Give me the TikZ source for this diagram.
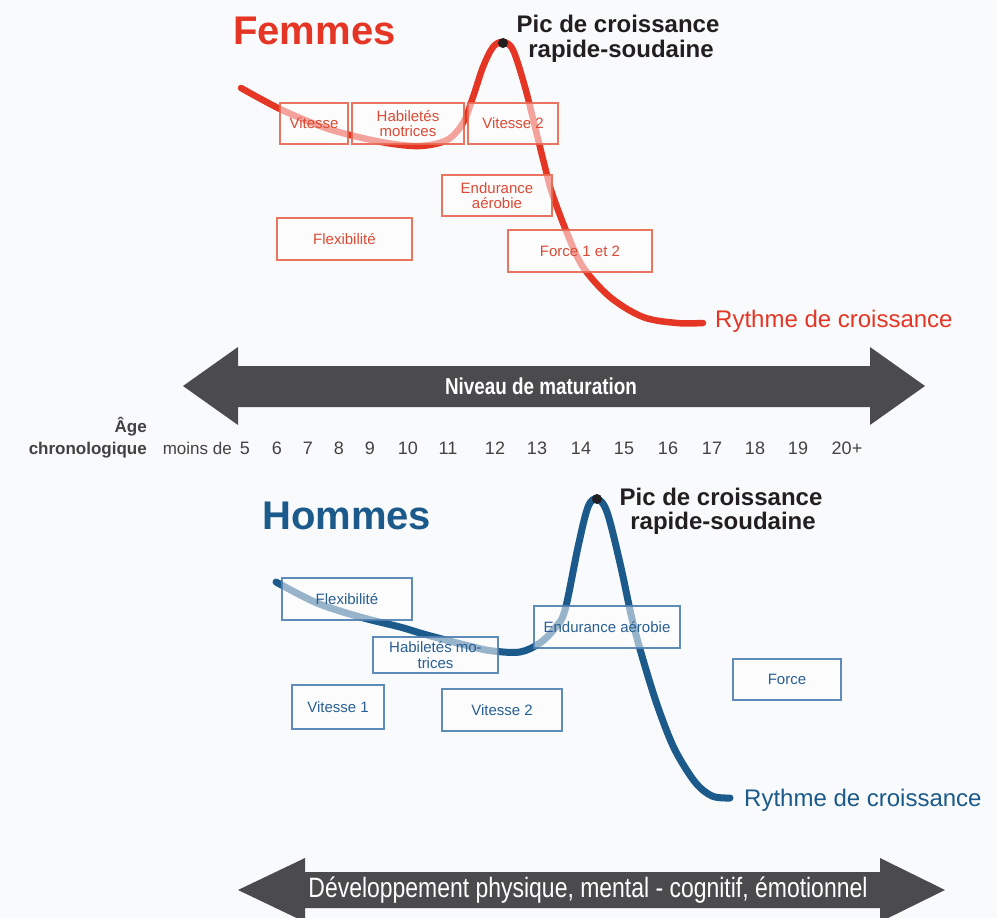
\documentclass[tikz,border=0pt]{standalone}
\usepackage{graphicx}
\usepackage{fontspec}
\setmainfont{Liberation Sans}
\definecolor{fred}{HTML}{E53524}
\definecolor{fredbox}{HTML}{E9674F}
\definecolor{fredtxt}{HTML}{DC4A33}
\definecolor{hblue}{HTML}{1B5A8A}
\definecolor{hbluebox}{HTML}{4F7FB2}
\definecolor{hbluetxt}{HTML}{285F94}
\definecolor{agrey}{HTML}{4B4B4D}
\definecolor{ink}{HTML}{231F20}
\definecolor{bgc}{HTML}{F9FAFC}
\tikzset{
  boxbase/.style={line width=1.8pt, fill=white, fill opacity=0.55, text opacity=1, draw opacity=0.9,
    font=\fontsize{15}{15.5}\selectfont, align=center, inner sep=0pt},
  rbox/.style={boxbase, draw=fredbox, text=fredtxt},
  bbox/.style={boxbase, draw=hbluebox, text=hbluetxt},
  fcurve/.style={draw=fred, line width=6.5pt, line cap=round},
  hcurve/.style={draw=hblue, line width=7pt, line cap=round},
  peakdot/.style={circle, fill=ink, minimum size=10pt, inner sep=0pt},
  title/.style={font=\bfseries\fontsize{40}{40}\selectfont, anchor=base west, inner sep=0pt},
  pictxt/.style={font=\bfseries\fontsize{24}{24}\selectfont, text=ink, anchor=base, inner sep=0pt},
  rythme/.style={font=\fontsize{24}{24}\selectfont, anchor=base west, inner sep=0pt},
  agenum/.style={font=\fontsize{18}{18}\selectfont, text=ink!85, anchor=base, inner sep=0pt},
  agelab/.style={font=\fontsize{17}{17}\selectfont, text=ink!85, anchor=base east, inner sep=0pt},
  bigarrow/.style={fill=agrey},
}
\begin{document}
\begin{tikzpicture}[x=1pt,y=-1pt]
\useasboundingbox (0,0) rectangle (997,918);
\fill[bgc] (0,0) rectangle (997,918);

% ---------- Femmes ----------
\node[title, text=fred] (femmes) at (233,44) {Femmes};
\draw[fcurve] plot[smooth, tension=0.55] coordinates {
 (241,88) (280,109) (320,126) (350,135) (387,143) (420,146) (447,140) (463,123)
 (473,97) (483,67) (493,47) (503,42) (513,50) (525,87) (535,127) (545,167)
 (552,193) (567,233) (583,267) (610,297) (643,317) (677,323) (703,323)};

\node[rbox, minimum width=68pt, minimum height=41pt] (fvit) at (314,123.5) {Vitesse};
\node[rbox, minimum width=112pt, minimum height=41pt] (fhab) at (408,123.5) {Habiletés\\motrices};
\node[rbox, minimum width=90pt, minimum height=41pt] (fvit2) at (513,123.5) {Vitesse 2};
\node[rbox, minimum width=110pt, minimum height=41pt] (fend) at (497,195.5) {Endurance\\aérobie};
\node[rbox, minimum width=135pt, minimum height=42pt] (fflex) at (344.5,239) {Flexibilité};
\node[rbox, minimum width=144pt, minimum height=42pt] (fforce) at (580,251) {Force 1 et 2};

\node[peakdot] (fpeak) at (503,43) {};
\node[pictxt] (fpic1) at (618,32) {Pic de croissance};
\node[pictxt] (fpic2) at (621,57) {rapide-soudaine};
\node[rythme, text=fred] (fryth) at (715,327) {Rythme de croissance};

% ---------- Niveau de maturation arrow ----------
\fill[bigarrow] (183,386) -- (238,347) -- (238,366) -- (870,366) -- (870,347) -- (925,386)
  -- (870,425) -- (870,407) -- (238,407) -- (238,425) -- cycle;
\node[font=\bfseries\fontsize{23}{23}\selectfont, text=white, inner sep=0pt] (niveau) at (541,386)
  {\scalebox{0.82}[1]{Niveau de maturation}};

% ---------- Age row ----------
\node[agelab, font=\bfseries\fontsize{17}{17}\selectfont] (age1) at (147,432) {Âge};
\node[agelab, font=\bfseries\fontsize{17}{17}\selectfont] (age2) at (147,454) {chronologique};
\node[agelab] (moins) at (232,454) {moins de};
\foreach \n/\xx in {5/245,6/277,7/308,8/339,9/370,10/408,11/448,12/495,13/537,14/581,15/624,16/668,17/712,18/755,19/798,20+/847}
  \node[agenum] (a\n) at (\xx,454) {\n};

% ---------- Hommes ----------
\node[title, text=hblue] (hommes) at (262,529) {Hommes};
\draw[hcurve] plot[smooth, tension=0.55] coordinates {
 (276,582) (317,603) (360,617) (400,627) (427,635) (473,647) (493,651) (520,652)
 (540,643) (555,628) (565,610) (578,547) (588,507) (597,499) (607,512) (620,563)
 (633,623) (647,673) (660,713) (675,750) (695,782) (712,796) (730,798)};

\node[bbox, minimum width=130pt, minimum height=42pt] (hflex) at (347,599) {Flexibilité};
\node[bbox, minimum width=125pt, minimum height=36pt] (hhab) at (435.5,655) {Habiletés mo-\\trices};
\node[bbox, minimum width=146pt, minimum height=42pt] (hend) at (607,627) {Endurance aérobie};
\node[bbox, minimum width=92pt, minimum height=44pt] (hvit1) at (338,707) {Vitesse 1};
\node[bbox, minimum width=120pt, minimum height=42pt] (hvit2) at (502,710) {Vitesse 2};
\node[bbox, minimum width=108pt, minimum height=41pt] (hforce) at (787,679.5) {Force};

\node[peakdot] (hpeak) at (597,499) {};
\node[pictxt] (hpic1) at (721,505) {Pic de croissance};
\node[pictxt] (hpic2) at (723,529) {rapide-soudaine};
\node[rythme, text=hblue] (hryth) at (744,806) {Rythme de croissance};

% ---------- Développement arrow ----------
\fill[bigarrow] (238,890) -- (305,858) -- (305,872) -- (880,872) -- (880,858) -- (945,890)
  -- (880,922) -- (880,908) -- (305,908) -- (305,922) -- cycle;
\node[font=\fontsize{28}{28}\selectfont, text=white, inner sep=0pt] (dev) at (588,890)
  {\scalebox{0.82}[1]{Développement physique, mental - cognitif, émotionnel}};
\end{tikzpicture}
\end{document}
